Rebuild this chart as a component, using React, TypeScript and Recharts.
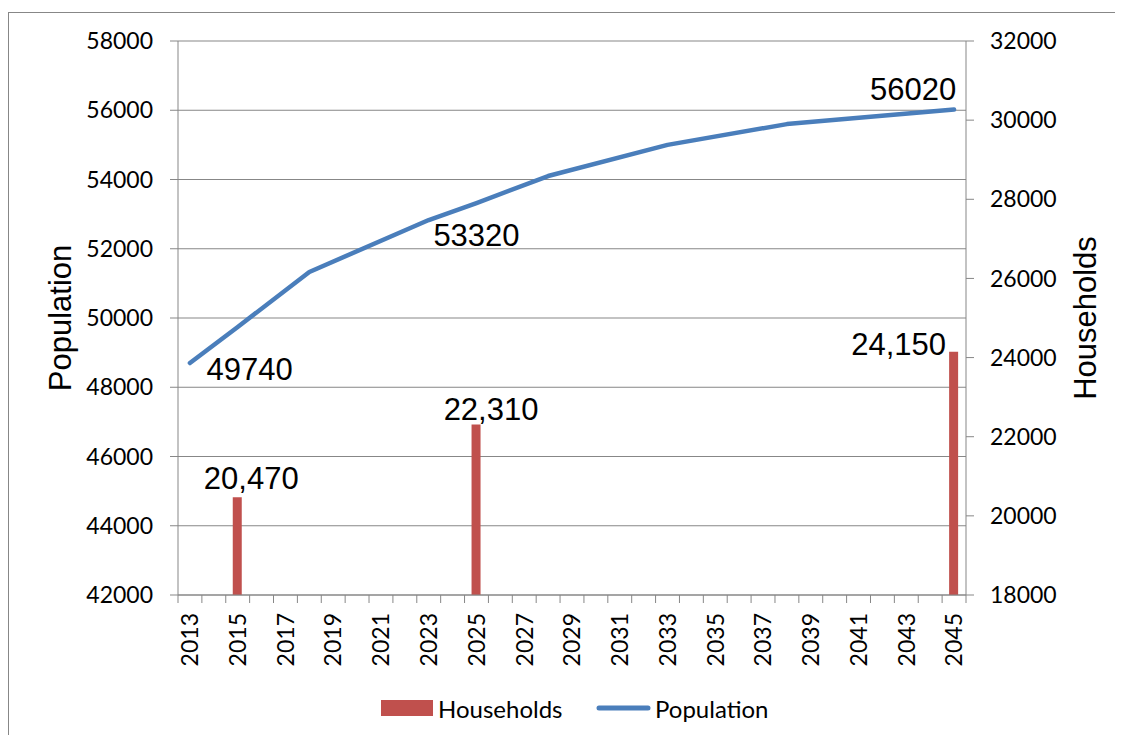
import React from 'react';
import {
  ComposedChart,
  Bar,
  Line,
  XAxis,
  YAxis,
  CartesianGrid,
  Legend,
  LabelList,
} from 'recharts';

// Years on the category axis
const years = [
  2013, 2014, 2015, 2016, 2017, 2018, 2019, 2020, 2021, 2022, 2023,
  2024, 2025, 2026, 2027, 2028, 2029, 2030, 2031, 2032, 2033, 2034,
  2035, 2036, 2037, 2038, 2039, 2040, 2041, 2042, 2043, 2044, 2045,
];

// Population (left axis); gaps are bridged by the line
const population = [
  48700, null, 49740, null, null, 51330, null, null, null, null, 52830,
  null, 53320, null, null, 54100, null, null, null, null, 55000, null,
  null, null, null, 55600, null, null, null, null, null, null, 56020,
];

// Households (right axis)
const households = [
  null, null, 20470, null, null, null, null, null, null, null, null,
  null, 22310, null, null, null, null, null, null, null, null, null,
  null, null, null, null, null, null, null, null, null, null, 24150,
];

// Years whose values are printed on the chart
const labelledYears = [2015, 2025, 2045];

const populationTicks = [42000, 44000, 46000, 48000, 50000, 52000, 54000, 56000, 58000];
const householdTicks = [18000, 20000, 22000, 24000, 26000, 28000, 30000, 32000];

const data = years.map((year, i) => ({
  year: String(year),
  population: population[i],
  households: households[i],
}));

const RED = '#C0504D';
const BLUE = '#4A7EBB';
const GRID = '#878787';
const TICK_FONT = 'Lato, "Open Sans", sans-serif';
const LABEL_FONT = '"Liberation Sans", Arial, sans-serif';

const CHART_W = 1100;
const CHART_H = 720;
const LEFT_W = 169;
const RIGHT_W = 143;
const TOP = 28;
const X_AXIS_H = 138;
const BAND = (CHART_W - LEFT_W - RIGHT_W) / years.length;

// Hand-placed label nudges (text centre relative to the mark's anchor)
const populationLabelShift: Record<string, [number, number]> = {
  '2015': [12, 42],
  '2025': [0, 32],
  '2045': [-41, -20],
};
const householdLabelShift: Record<string, [number, number]> = {
  '2015': [14, -19],
  '2025': [15, -15],
  '2045': [-55, -7],
};

// Find the year a labelled value belongs to
const yearOf = (series: (number | null)[], value: any) => {
  const i = series.indexOf(Number(value));
  return i >= 0 ? years[i] : null;
};

const PopulationLabel = (props: any) => {
  const { value } = props;
  if (value == null) return null;
  const year = yearOf(population, value);
  if (year == null || !labelledYears.includes(year)) return null;
  const vb = props.viewBox || {};
  const px = vb.x ?? props.x;
  const py = vb.y ?? props.y;
  const [dx, dy] = populationLabelShift[String(year)] || [0, -20];
  return (
    <text
      x={px + dx}
      y={py + dy}
      textAnchor="middle"
      dominantBaseline="central"
      fontFamily={LABEL_FONT}
      fontSize={31}
      fill="#000"
    >
      {String(value)}
    </text>
  );
};

const HouseholdLabel = (props: any) => {
  const { value } = props;
  if (value == null) return null;
  const year = yearOf(households, value);
  if (year == null || !labelledYears.includes(year)) return null;
  const vb = props.viewBox || {};
  const bx = vb.x ?? props.x;
  const by = vb.y ?? props.y;
  const bw = vb.width ?? props.width ?? 0;
  const [dx, dy] = householdLabelShift[String(year)] || [0, -20];
  return (
    <text
      x={bx + bw / 2 + dx}
      y={by + dy}
      textAnchor="middle"
      dominantBaseline="central"
      fontFamily={LABEL_FONT}
      fontSize={31}
      fill="#000"
    >
      {Number(value).toLocaleString('en-US')}
    </text>
  );
};

// Category tick: marks sit on the boundaries between years, labels on every other year
const YearTick = (props: any) => {
  const { x, y, payload, index } = props;
  const half = payload && typeof payload.offset === 'number' && payload.offset > 0 ? payload.offset : BAND / 2;
  const last = index === years.length - 1;
  return (
    <g>
      <line x1={x - half} x2={x - half} y1={y} y2={y + 8} stroke={GRID} strokeWidth={1} />
      {last && <line x1={x + half} x2={x + half} y1={y} y2={y + 8} stroke={GRID} strokeWidth={1} />}
      {index % 2 === 0 && (
        <text
          x={x}
          y={y + 18}
          transform={`rotate(-90 ${x} ${y + 18})`}
          textAnchor="end"
          dy="0.36em"
          fontFamily={TICK_FONT}
          fontSize={23}
          fill="#000"
        >
          {payload.value}
        </text>
      )}
    </g>
  );
};

const AxisTitle = (text: string, shift: number) => (p: any) => {
  const vb = p.viewBox || {};
  const cx = (vb.x ?? 0) + shift;
  const cy = TOP + (CHART_H - TOP - X_AXIS_H) / 2;
  return (
    <text
      x={cx}
      y={cy}
      transform={`rotate(-90 ${cx} ${cy})`}
      textAnchor="middle"
      dominantBaseline="central"
      fontFamily={LABEL_FONT}
      fontSize={31}
      fill="#000"
    >
      {text}
    </text>
  );
};

const LegendBox = () => (
  <svg width={CHART_W} height={40} style={{ display: 'block' }}>
    <rect x={372} y={12} width={52} height={16} fill={RED} />
    <text x={429} y={20} dominantBaseline="central" fontFamily={TICK_FONT} fontSize={24} fill="#000">
      Households
    </text>
    <line x1={590} x2={639} y1={20} y2={20} stroke={BLUE} strokeWidth={5} strokeLinecap="round" />
    <text x={646} y={20} dominantBaseline="central" fontFamily={TICK_FONT} fontSize={24} fill="#000">
      Population
    </text>
  </svg>
);

export default function App() {
  return (
    <div style={{ paddingTop: 4 }}>
      <div
        style={{
          borderTop: `1px solid ${GRID}`,
          borderLeft: `1px solid ${GRID}`,
          width: 1114,
          height: 722,
          background: '#fff',
        }}
      >
        <ComposedChart
          width={CHART_W}
          height={CHART_H}
          data={data}
          margin={{ top: TOP, right: 0, bottom: 0, left: 0 }}
        >
          <CartesianGrid yAxisId="left" vertical={false} stroke={GRID} strokeWidth={1} />
          <XAxis
            dataKey="year"
            type="category"
            interval={0}
            height={X_AXIS_H}
            tickSize={0}
            tickMargin={0}
            tickLine={false}
            axisLine={{ stroke: GRID }}
            tick={<YearTick />}
          />
          <YAxis
            yAxisId="left"
            orientation="left"
            width={LEFT_W}
            domain={[42000, 58000]}
            ticks={populationTicks}
            interval={0}
            allowDataOverflow
            tickSize={8}
            tickMargin={17}
            tickLine={{ stroke: GRID }}
            axisLine={{ stroke: GRID }}
            tick={{ fill: '#000', fontSize: 23, fontFamily: TICK_FONT }}
            label={{ value: 'Population', content: AxisTitle('Population', 51) }}
          />
          <YAxis
            yAxisId="right"
            orientation="right"
            width={RIGHT_W}
            domain={[18000, 32000]}
            ticks={householdTicks}
            interval={0}
            allowDataOverflow
            tickSize={8}
            tickMargin={16}
            tickLine={{ stroke: GRID }}
            axisLine={{ stroke: GRID }}
            tick={{ fill: '#000', fontSize: 23, fontFamily: TICK_FONT }}
            label={{ value: 'Households', content: AxisTitle('Households', 119) }}
          />
          <Bar
            yAxisId="right"
            dataKey="households"
            name="Households"
            fill={RED}
            barSize={9}
            isAnimationActive={false}
          >
            <LabelList dataKey="households" content={<HouseholdLabel />} />
          </Bar>
          <Line
            yAxisId="left"
            dataKey="population"
            name="Population"
            type="linear"
            stroke={BLUE}
            strokeWidth={4.5}
            strokeLinecap="round"
            strokeLinejoin="round"
            dot={false}
            activeDot={false}
            connectNulls
            isAnimationActive={false}
          >
            <LabelList dataKey="population" content={<PopulationLabel />} />
          </Line>
          <Legend
            verticalAlign="middle"
            align="center"
            layout="horizontal"
            content={<LegendBox />}
            wrapperStyle={{ top: 675, left: 0, width: CHART_W, height: 40 }}
          />
        </ComposedChart>
      </div>
    </div>
  );
}
